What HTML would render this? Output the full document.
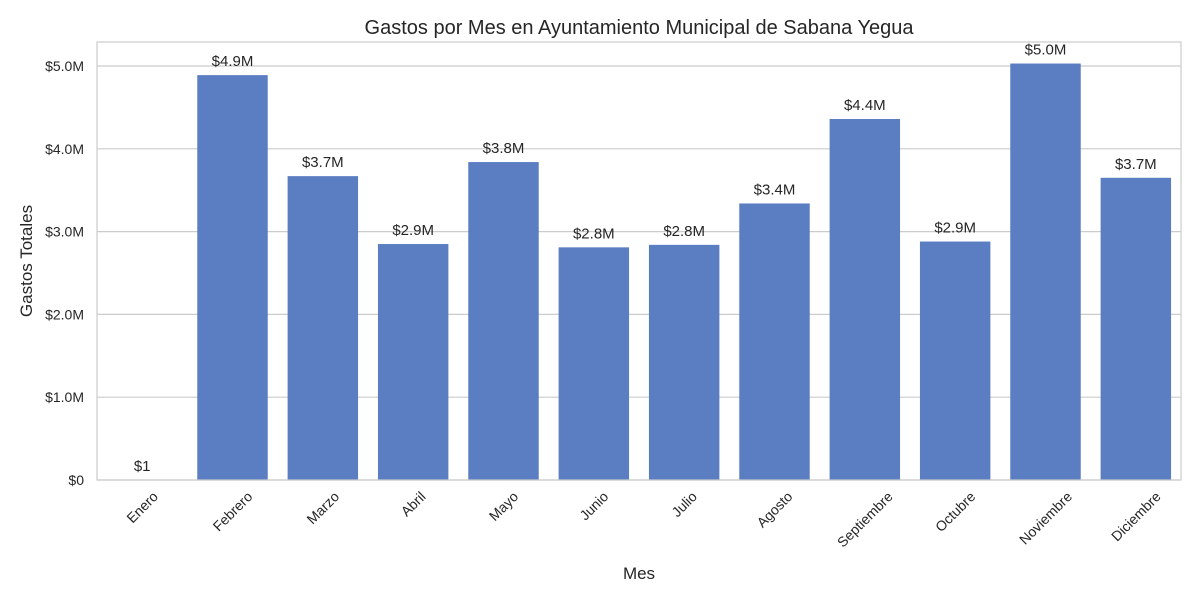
<!DOCTYPE html>
<html><head><meta charset="utf-8"><style>
body{margin:0;background:#fff;}
svg{font-family:"Liberation Sans",Arial,sans-serif;}
</style></head><body>
<svg id="chart" width="1200" height="600" xmlns="http://www.w3.org/2000/svg">
<rect width="1200" height="600" fill="#fff"/>
<text x="639" y="34" text-anchor="middle" font-size="20" fill="#262626">Gastos por Mes en Ayuntamiento Municipal de Sabana Yegua</text>
<text x="639" y="579" text-anchor="middle" font-size="17" fill="#262626">Mes</text>
<text transform="translate(32,261) rotate(-90)" text-anchor="middle" font-size="17" fill="#262626">Gastos Totales</text>
<g id="grid"></g><g id="bars"></g><g id="labels"></g><g id="xt"></g><g id="yt"></g>
<rect x="97" y="42" width="1084" height="438" fill="none" stroke="#cccccc" stroke-width="1.2"/>
</svg>
<script>
const categories=["Enero","Febrero","Marzo","Abril","Mayo","Junio","Julio","Agosto","Septiembre","Octubre","Noviembre","Diciembre"];
const values=[1,4890000,3670000,2850000,3840000,2810000,2840000,3340000,4360000,2880000,5030000,3650000];
const valueLabels=["$1","$4.9M","$3.7M","$2.9M","$3.8M","$2.8M","$2.8M","$3.4M","$4.4M","$2.9M","$5.0M","$3.7M"];
const yTicks=[0,1000000,2000000,3000000,4000000,5000000];
const yTickLabels=["$0","$1.0M","$2.0M","$3.0M","$4.0M","$5.0M"];
const L=97,R=1181,T=42,B=480,yMax=5290000;
const NS="http://www.w3.org/2000/svg";
const y=v=>B-(v/yMax)*(B-T);
const band=(R-L)/categories.length;
const xc=i=>L+band*(i+0.5);
function mk(t,a,p){const e=document.createElementNS(NS,t);for(const k in a)e.setAttribute(k,a[k]);document.getElementById(p).appendChild(e);return e;}
yTicks.forEach((v,i)=>{
 const g=mk("line",{x1:L,x2:R,y1:y(v),y2:y(v),stroke:"#cccccc","stroke-width":1.2},"grid");
 
 
 const t=mk("text",{x:L-13,y:y(v)+5,"text-anchor":"end","font-size":14,fill:"#262626"},"yt");
 t.textContent=yTickLabels[i];
 
 
});
const bw=band*0.78;
categories.forEach((c,i)=>{
 const r=mk("rect",{x:xc(i)-bw/2,y:y(values[i]),width:bw,height:B-y(values[i]),fill:"#5b7ec2"},"bars");
 
 
 const l=mk("text",{x:xc(i),y:y(values[i])-9,"text-anchor":"middle","font-size":15,fill:"#262626"},"labels");
 l.textContent=valueLabels[i];
 
 
 const t=mk("text",{"text-anchor":"middle","font-size":14,fill:"#262626"},"xt");
 t.textContent=c;
 
 
 const w=t.getComputedTextLength(),h=14;
 const cy=489+(w+h)*0.354;
 t.setAttribute("transform",`translate(${xc(i)},${cy}) rotate(-45)`);
 t.setAttribute("y",5);
});
</script>
</body></html>
